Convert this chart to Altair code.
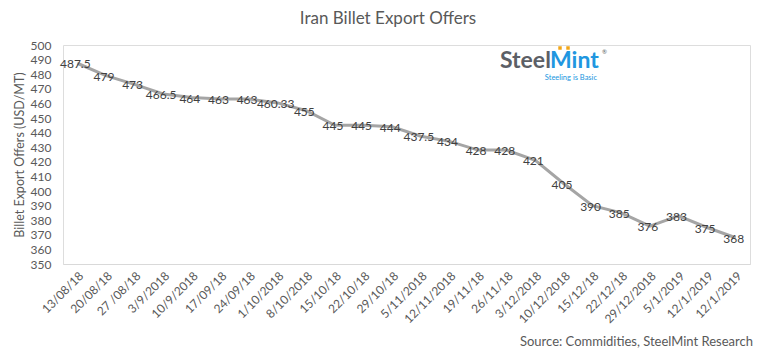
import altair as alt
import pandas as pd

dates = ["13/08/18", "20/08/18", "27 /08/18", "3/9/2018", "10/9/2018", "17/09/18",
         "24/09/18", "1/10/2018", "8/10/2018", "15/10/18", "22/10/18", "29/10/18",
         "5/11/2018", "12/11/2018", "19/11/18", "26/11/18", "3/12/2018", "10/12/2018",
         "15/12/18", "22/12/18", "29/12/2018", "5/1/2019", "12/1/2019", "12/1/2019"]
values = [487.5, 479, 473, 466.5, 464, 463, 463, 460.33, 455, 445, 445, 444,
          437.5, 434, 428, 428, 421, 405, 390, 385, 376, 383, 375, 368]
y_ticks = list(range(350, 501, 10))

df = pd.DataFrame({
    "i": list(range(len(dates))),
    "date": dates,
    "value": values,
    "label": [f"{v:g}" for v in values],
})

FONT = "Lato"
GRAY = "#595959"

label_array = "[" + ",".join("'" + d + "'" for d in dates) + "]"

x = alt.X("i:O", sort=None,
          scale=alt.Scale(type="point", padding=0.5),
          axis=alt.Axis(title=None, labelExpr=label_array + "[datum.value]",
                        labelAngle=-45, labelAlign="right", labelBaseline="top",
                        labelFont=FONT, labelFontSize=12, labelColor=GRAY,
                        labelPadding=6, ticks=False, domainColor="#D9D9D9",
                        domainWidth=1, grid=False, labelOverlap=False))
y = alt.Y("value:Q",
          scale=alt.Scale(domain=[350, 500], nice=False, zero=False),
          axis=alt.Axis(title="Billet Export Offers (USD/MT)", values=y_ticks,
                        labelFont=FONT, labelFontSize=12, labelColor=GRAY,
                        labelPadding=12, ticks=False, domain=False, grid=False,
                        titleFont=FONT, titleFontSize=12.5, titleColor=GRAY,
                        titleFontWeight="normal", titlePadding=4))

base = alt.Chart(df)
line = base.mark_line(color="#A5A5A5", strokeWidth=3).encode(x=x, y=y)
labels = base.mark_text(font=FONT, fontSize=12, color="#404040", dx=-2, dy=1).encode(
    x=x, y=y, text="label:N")

one = pd.DataFrame({"k": [0]})


def deco(text, px, py, size, color, weight="normal", align="center", baseline="alphabetic"):
    return alt.Chart(one).mark_text(
        text=text, font=FONT, fontSize=size, color=color, fontWeight=weight,
        align=align, baseline=baseline, clip=False
    ).encode(x=alt.value(px), y=alt.value(py))


title = deco("Iran Billet Export Offers", 325, -21, 17, GRAY)
source = deco("Source: Commidities, SteelMint Research", 690, 301, 13, GRAY, align="right")
logo_steel = deco("Steel", 437, 23, 23, "#5C5F66", weight="bold", align="left")
logo_mint = deco("Mint", 487, 23, 23, "#2196E0", weight="bold", align="left")
logo_tag = deco("Steeling is Basic", 534, 35, 7.5, "#2196E0", align="right")
logo_r = deco("®", 539, 9, 6, "#5C5F66", align="left")
dots = alt.Chart(pd.DataFrame({"px": [497, 505]})).mark_point(
    filled=True, color="#F2A516", size=12, shape="square", opacity=1, clip=False
).encode(x=alt.X("px:Q", scale=None), y=alt.value(3))

chart = alt.layer(line, labels, title, source, logo_steel, logo_mint, logo_tag, logo_r, dots).properties(
    width=687, height=219,
    autosize=alt.AutoSizeParams(type="none"),
    padding={"left": 63, "top": 45, "right": 11, "bottom": 91},
).configure_view(stroke=None).configure(background="white")

chart.save("out.html", embed_options={"renderer": "svg", "actions": False})
